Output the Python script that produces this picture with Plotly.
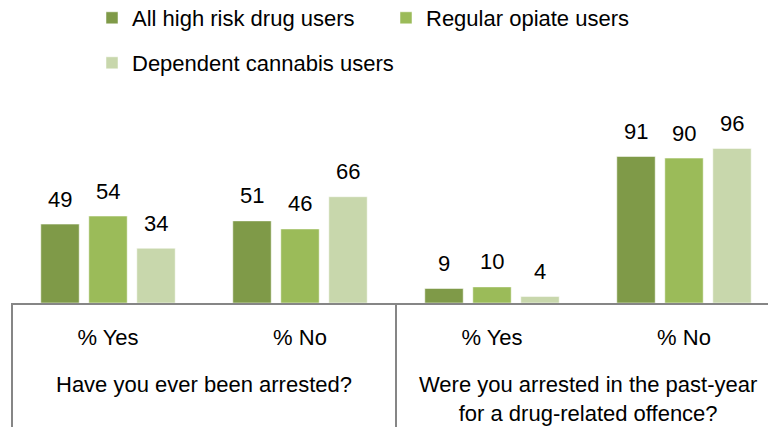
import plotly.graph_objects as go

# ---- data ----
answers = ["% Yes", "% No", "% Yes", "% No"]
questions = ["Have you ever been arrested?",
             "Were you arrested in the past-year<br>for a drug-related offence?"]
question_of_answer = [0, 0, 1, 1]
series_names = ["All high risk drug users", "Regular opiate users", "Dependent cannabis users"]
all_high_risk = [49, 51, 9, 91]
regular_opiate = [54, 46, 10, 90]
dependent_cannabis = [34, 66, 4, 96]

# ---- styles ----
colors = ["#7F9A48", "#9BBB59", "#C8D7AC"]
offsets = [-0.35, -0.1, 0.15]
bar_w = 0.2
FONT = "Liberation Sans, Arial, sans-serif"
FS = 22
W, H = 768, 427
ML, MR, MT, MB = 12, 0, 80, H - 303
x_range = [-0.5, -0.5 + (W - ML - MR) / 192.0]
plot_h = H - MT - MB
y_range = [0, plot_h / 1.61]

xs = list(range(len(answers)))
series_values = [all_high_risk, regular_opiate, dependent_cannabis]
legend_ids = ["legend", "legend2", "legend3"]

fig = go.Figure()
annotations = []
for i, (name, vals) in enumerate(zip(series_names, series_values)):
    fig.add_trace(go.Bar(
        x=xs, y=vals, name=name, width=bar_w, offset=offsets[i],
        marker=dict(color=colors[i], line=dict(color="white", width=0.5)),
        legend=legend_ids[i], hoverinfo="skip",
    ))
    for xv, v in zip(xs, vals):
        annotations.append(dict(
            x=xv + offsets[i] + bar_w / 2, y=v, xref="x", yref="y",
            text=str(v), showarrow=False, yshift=25, yanchor="middle",
            font=dict(family=FONT, size=FS, color="#000000"),
        ))

# question (group) labels
for qi, q in enumerate(questions):
    members = [x for x, g in zip(xs, question_of_answer) if g == qi]
    annotations.append(dict(
        x=sum(members) / len(members), xref="x",
        y=-67 / plot_h, yref="paper",
        text=q, showarrow=False, yanchor="top", xanchor="center",
        font=dict(family=FONT, size=FS, color="#000000"),
    ))

# dividers at group boundaries
boundaries = [-0.5]
for qi in range(len(questions)):
    members = [x for x, g in zip(xs, question_of_answer) if g == qi]
    boundaries.append(max(members) + 0.5)
shapes = []
for b in boundaries:
    px = (b - x_range[0]) / (x_range[1] - x_range[0])
    shapes.append(dict(type="line", xref="paper", yref="paper",
                       x0=px, x1=px, y0=0, y1=-MB / plot_h,
                       line=dict(color="#868686", width=2)))

legend_common = dict(orientation="h", xref="container", yref="container",
                     yanchor="middle", xanchor="left", bgcolor="rgba(0,0,0,0)",
                     font=dict(family=FONT, size=FS, color="#000000"))

fig.update_layout(
    width=W, height=H,
    margin=dict(l=ML, r=MR, t=MT, b=MB, autoexpand=False),
    paper_bgcolor="white", plot_bgcolor="white",
    barmode="group",
    showlegend=True,
    legend=dict(x=92 / W, y=1 - 18 / H, **legend_common),
    legend2=dict(x=386 / W, y=1 - 18 / H, **legend_common),
    legend3=dict(x=92 / W, y=1 - 63 / H, **legend_common),
    xaxis=dict(range=x_range, tickmode="array", tickvals=xs, ticktext=answers,
               showline=True, linecolor="#868686", linewidth=2, ticks="",
               showgrid=False, zeroline=False, ticklabelstandoff=14,
               tickfont=dict(family=FONT, size=FS, color="#000000"), fixedrange=True),
    yaxis=dict(range=y_range, showgrid=False, zeroline=False, showticklabels=False,
               showline=False, fixedrange=True),
    annotations=annotations,
    shapes=shapes,
)

fig.write_html("out.html", config={"displayModeBar": False},
               post_script="document.body.style.margin='0px';")
